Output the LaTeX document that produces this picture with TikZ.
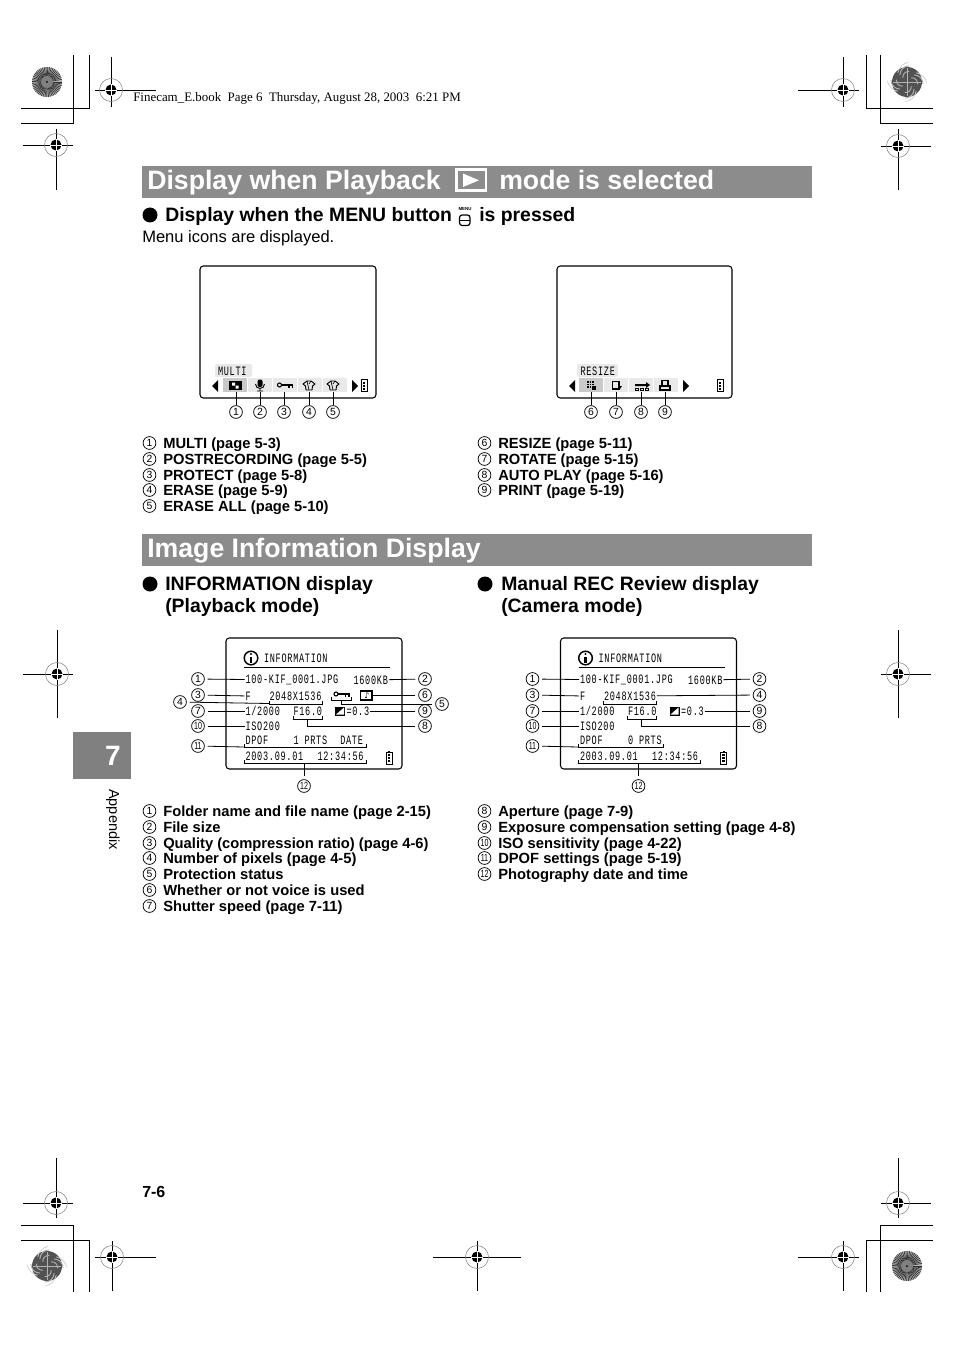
\documentclass[tikz,border=0pt]{standalone}
\usepackage{graphicx}
\usepackage{fontspec}
\setmainfont{Liberation Sans}
\newfontfamily\lcdfont[LetterSpace=8.4]{Liberation Mono}
\newfontfamily\cirfont{DejaVu Sans}
\newfontfamily\hdrfont{Liberation Serif}
\usetikzlibrary{calc,positioning}
\definecolor{barcol}{HTML}{8C8C8C}
\definecolor{tabcol}{HTML}{808080}
\definecolor{bandcol}{HTML}{E9E9E9}
\definecolor{selcol}{HTML}{C9C9C9}
\newcommand{\lcd}[1]{\scalebox{1}[1.5]{\lcdfont\fontsize{6.4}{8}\selectfont #1}}
\newcommand{\cn}[1]{\ifnum#1>9 \scalebox{.68}[1]{#1}\else #1\fi}
\tikzset{
  headtxt/.style={anchor=base west,inner sep=0,yshift=-7.1pt,text=white,font=\fontsize{20}{20}\bfseries},
  subtxt/.style={anchor=base west,inner sep=0,yshift=-4.9pt,align=left,font=\fontsize{14.55}{16.5}\bfseries},
  itemtxt/.style={anchor=base west,inner sep=0,yshift=-4.2pt,font=\fontsize{11.05}{12}\bfseries},
  plaintxt/.style={anchor=base west,inner sep=0,yshift=-4pt,font=\fontsize{12.4}{14}\selectfont},
  cirbase/.style={circle,draw,line width=0.55pt,minimum size=9.6pt,inner sep=0,font=\fontsize{7.8}{8}\selectfont},
  cirnum/.style={cirbase,outer sep=2.4pt},
  cirsmall/.style={cirbase},
  lcdtxt/.style={anchor=west,inner sep=0.6pt},
  screen/.style={draw,line width=0.8pt,rounded corners=2.5pt},
  leader/.style={line width=0.6pt},
  regline/.style={line width=0.7pt},
}
% x y left right top bottom
\newcommand{\regmark}[6]{%
  \draw[regline] (#3,#2)--(#4,#2) (#1,#5)--(#1,#6);
  \draw[gray,line width=0.4pt] (#1,#2) circle (11.5);
  \fill (#1,#2) circle (5.5);
  \draw[white,line width=0.6pt] (#1-6,#2)--(#1+6,#2) (#1,#2-6)--(#1,#2+6);
}
\newcommand{\sunburst}[2]{%
  \fill[gray!60] (#1,#2) circle (15);
  \foreach \a in {0,7,...,353} \draw[line width=0.5pt,black!80] (#1,#2)--++(\a:15);
  \fill[gray] (#1,#2) circle (6);
  \fill[black] (#1,#2) circle (1);
}
\newcommand{\swirl}[2]{%
  \fill[black!68] (#1,#2) circle (15);
  \foreach \a in {0,90,180,270} {
    \draw[gray!60,line width=0.7pt] (#1,#2)--++(\a:14);
    \draw[gray!60,line width=0.7pt] (#1,#2)++(\a+45:6) arc (\a+45-50:\a+45+50:6);
    \draw[gray!60,line width=0.7pt] (#1,#2)++(\a+45:10) arc (\a+45-45:\a+45+45:9);
    \draw[gray!40,line width=0.5pt] (#1,#2)++(\a+45:13) arc (\a+45-35:\a+45+35:13);
  }
}
\newcommand{\batt}[2]{%
  \draw[line width=0.6pt] (#1,#2) rectangle ++(6,12);
  \fill (#1+2,#2-1) rectangle ++(2,1);
  \foreach \b in {2,5,8} \fill (#1+1.7,#2+\b) rectangle ++(2.6,2);
}
\newcommand{\keyicon}[2]{%
  \draw[line width=0.8pt] (#1+2.5,#2) circle (2);
  \draw[line width=1pt] (#1+4.5,#2)--(#1+16,#2) (#1+12,#2)--(#1+12,#2+2.5) (#1+15.5,#2)--(#1+15.5,#2+2.5);
}
\newcommand{\shirticon}[2]{%
  \draw[line width=0.7pt,line join=round] (#1-2,#2-4)--(#1-6,#2-1)--(#1-3.5,#2+1)--(#1-3,#2+5)--(#1+3,#2+5)--(#1+3.5,#2+1)--(#1+6,#2-1)--(#1+2,#2-4)--cycle;
  \draw[line width=0.5pt] (#1-2,#2-4)--(#1,#2+5) (#1+2,#2-4)--(#1,#2-1);
}
% name prefix
\newcommand{\infoscreen}[1]{%
  \draw[screen] (226,638) rectangle (402,769);
  \draw[line width=1.1pt] (251,658) circle (6.8);
  \fill (251,654) circle (1.2);
  \draw[line width=1.8pt] (251,656.5)--(251,663);
  \node[lcdtxt] (#1head) at (263,658) {\lcd{INFORMATION}};
  \draw[leader] (244,667)--(390,667);
  \node[lcdtxt] (#1file) at (244.5,680) {\lcd{100-KIF\_0001.JPG}};
  \node[lcdtxt] (#1size) at (352.5,680) {\lcd{1600KB}};
  \node[lcdtxt] (#1qual) at (244.5,696) {\lcd{F}};
  \node[lcdtxt] (#1pix) at (268.5,696) {\lcd{2048X1536}};
  \node[lcdtxt] (#1shut) at (244.5,711) {\lcd{1/2000}};
  \node[lcdtxt] (#1ap) at (292.5,711) {\lcd{F16.0}};
  \fill (335,706.5) rectangle (345,715.5);
  \fill[white] (336,714.5)--(344,707.5)--(344,714.5)--cycle;
  \node[lcdtxt] (#1ev) at (345.5,711) {\lcd{=0.3}};
  \node[lcdtxt] (#1iso) at (244.5,726) {\lcd{ISO200}};
  \node[lcdtxt] (#1dpof) at (244.5,740) {\lcd{DPOF}};
  \node[lcdtxt] (#1date) at (244.5,756) {\lcd{2003.09.01}};
  \node[lcdtxt] (#1time) at (316.5,756) {\lcd{12:34:56}};
  \batt{386}{752}
  \node[cirnum] (#1n1) at (198,679) {1};
  \node[cirnum] (#1n3) at (198,695) {3};
  \node[cirnum] (#1n7) at (198,711) {7};
  \node[cirnum] (#1n10) at (198,726) {\cn{10}};
  \node[cirnum] (#1n11) at (198,746) {\cn{11}};
  \node[cirnum] (#1n12) at (304,786) {\cn{12}};
  \node[cirnum] (#1n2) at (425,679) {2};
  \node[cirnum] (#1n9) at (425,711) {9};
  \node[cirnum] (#1n8) at (425,726) {8};
  \draw[leader] (#1n1)--(#1file);
  \draw[leader] (#1n3)--(#1qual);
  \draw[leader] (#1n7)--(#1shut);
  \draw[leader] (#1n10)--(#1iso);
  \draw[leader] (#1size)--(#1n2);
  \draw[leader] (#1ev)--(#1n9);
  \draw[leader] (269,701)--(269,704)--(322,704)--(322,701);
  \draw[leader] (293,716)--(293,719)--(322,719)--(322,716);
  \coordinate (#1brap) at (307,719);
  \draw[leader] (#1brap)--(#1brap|-#1n8)--(#1n8);
  \draw[leader] (244,760)--(244,763)--(366,763)--(366,760);
  \coordinate (#1brdt) at (304,763);
  \draw[leader] (#1brdt)--(#1n12);
}
\begin{document}
\begin{tikzpicture}[x=0.75pt,y=-0.75pt]
  \useasboundingbox (0,0) rectangle (954,1348);
  % crop marks
  \draw[regline] (73,55)--(73,123)--(21,123) (89,55)--(89,108)--(21,108);
  \draw[regline] (866,55)--(866,108)--(933,108) (880,55)--(880,123)--(933,123);
  \draw[regline] (73,1292)--(73,1225)--(21,1225) (89,1292)--(89,1240)--(21,1240);
  \draw[regline] (866,1292)--(866,1240)--(933,1240) (880,1292)--(880,1225)--(933,1225);
  \regmark{111}{90}{95}{156}{57}{107}
  \regmark{56}{145}{23}{73}{129}{190}
  \regmark{843}{90}{798}{859}{57}{107}
  \regmark{898}{146}{881}{931}{129}{190}
  \regmark{57}{674}{23}{73}{630}{718}
  \regmark{898}{674}{881}{931}{630}{718}
  \regmark{56}{1203}{23}{73}{1158}{1218}
  \regmark{112}{1257}{95}{156}{1241}{1291}
  \regmark{477}{1257}{433}{521}{1241}{1291}
  \regmark{843}{1257}{798}{859}{1241}{1291}
  \regmark{898}{1203}{881}{931}{1158}{1218}
  \sunburst{47}{82}
  \swirl{907}{82}
  \swirl{47}{1266}
  \sunburst{907}{1266}
  \node[anchor=base west,inner sep=0,font=\hdrfont\fontsize{9.7}{10}\selectfont] (book) at (133,102) {Finecam\_E.book\ \ Page 6\ \ Thursday, August 28, 2003\ \ 6:21 PM};
  % first heading
  \fill[barcol] (142,166) rectangle (812,198);
  \node[headtxt] (head1) at (147,180) {Display when Playback};
  \fill[white] (455,168.5) rectangle (487,192);
  \fill[barcol] (457.5,171) rectangle (484.5,189.5);
  \fill[white] (463,173.5)--(463,187)--(479,180.3)--cycle;
  \node[headtxt] (head2) at (499,180) {mode is selected};
  \fill (150,215) circle (7.5);
  \node[subtxt] (sub1) at (165,215) {Display when the MENU button};
  \node[anchor=center,inner sep=0,font=\fontsize{3.3}{4}\bfseries] (menu) at (465,209.5) {MENU};
  \draw[line width=0.9pt,rounded corners=2pt] (459.5,215)--(470,215)--(470,225.5)--(459.5,225.5)--cycle;
  \draw[line width=0.7pt] (460,220)--(470,220);
  \node[subtxt] (sub2) at (479,215) {is pressed};
  \node[plaintxt] (sub3) at (142,237) {Menu icons are displayed.};
  % menu screens
  \draw[screen] (200,266) rectangle (376,398);
  \fill[bandcol,rounded corners=1.5pt] (215,364) rectangle (252,377);
  \node[lcdtxt] (multi) at (217,371) {\lcd{MULTI}};
  \fill[bandcol] (223,378) rectangle (347,392);
  \fill[selcol] (223,378) rectangle (247,392);
  \draw[white,line width=0.6pt] (247,378)--(247,392) (272,378)--(272,392) (297,378)--(297,392) (322,378)--(322,392);
  \fill (218,380)--(218,392)--(212,386)--cycle;
  \fill (352,380)--(352,392)--(358,386)--cycle;
  \batt{361}{379.5}
  \fill (229,381) rectangle (241.5,390);
  \fill[white] (232,382.5) rectangle (235,385.5) (235.5,385.5) rectangle (238.5,388.5);
  \fill[rounded corners=1.5pt] (257.5,379.5) rectangle (262.5,387);
  \draw[line width=0.7pt] (255.5,384) arc (180:0:4.5) (260,388.5)--(260,391) (257,391)--(263,391);
  \keyicon{277}{385}
  \shirticon{309}{385}
  \shirticon{333}{385}
  \foreach \n/\x in {1/236,2/260,3/284,4/309,5/333}{
    \node[cirsmall] (m\n) at (\x,412) {\n};
    \coordinate (icon\n) at (\x,392);
    \draw[leader] (icon\n)--(m\n);
  }
  \draw[screen] (557,266) rectangle (732,398);
  \fill[bandcol,rounded corners=1.5pt] (577,364) rectangle (618,377);
  \node[lcdtxt] (resize) at (579.5,371) {\lcd{RESIZE}};
  \fill[bandcol] (579,378) rectangle (678,392);
  \fill[selcol] (579,378) rectangle (603,392);
  \draw[white,line width=0.6pt] (603,378)--(603,392) (628,378)--(628,392) (653,378)--(653,392);
  \fill (575,380)--(575,392)--(569,386)--cycle;
  \fill (683,380)--(683,392)--(689,386)--cycle;
  \batt{717}{379.5}
  \foreach \px/\py in {587/381,589.5/381,592/381,587/383.5,589.5/383.5,592/383.5,587/386,589.5/386}
    \fill (\px,\py) rectangle ++(1.7,1.7);
  \fill (591.5,385.5) rectangle (596,390);
  \draw[line width=1.1pt] (612.5,381.5) rectangle (619,389);
  \fill (618,386)--(622,386)--(620,389)--cycle;
  \fill (635,384)--(646,384)--(646,382)--(650,385)--(646,388)--(646,386)--(635,386)--cycle;
  \foreach \px in {635,640,645} \draw[line width=0.7pt] (\px,388.5) rectangle ++(3.6,2);
  \draw[line width=0.8pt] (662,380.5) rectangle (668,386);
  \draw[line width=0.9pt] (660,386)--(670,386)--(670,390)--(660,390)--cycle;
  \foreach \n/\x in {6/591,7/616,8/641,9/665}{
    \node[cirsmall] (m\n) at (\x,412) {\n};
    \coordinate (icon\n) at (\x,392);
    \draw[leader] (icon\n)--(m\n);
  }
  % menu lists
  \foreach \y/\k/\t in {443/1/MULTI (page 5-3),459/2/POSTRECORDING (page 5-5),475/3/PROTECT (page 5-8),490/4/ERASE (page 5-9),506/5/ERASE ALL (page 5-10)}{
    \node[cirsmall] (la\k) at (149.5,\y) {\k};
    \node[itemtxt] (lb\k) at (163,\y) {\t};
  }
  \foreach \y/\k/\t in {443/6/RESIZE (page 5-11),459/7/ROTATE (page 5-15),475/8/AUTO PLAY (page 5-16),490/9/PRINT (page 5-19)}{
    \node[cirsmall] (la\k) at (484.5,\y) {\k};
    \node[itemtxt] (lb\k) at (498,\y) {\t};
  }
  % second heading
  \fill[barcol] (142,534) rectangle (812,566);
  \node[headtxt] (head3) at (147,548) {Image Information Display};
  \fill (150,584) circle (7.5);
  \node[subtxt] (sub4) at (165,584) {INFORMATION display};
  \node[subtxt] (sub4b) at (165,606) {(Playback mode)};
  \fill (485,584) circle (7.5);
  \node[subtxt] (sub5) at (501,584) {Manual REC Review display};
  \node[subtxt] (sub5b) at (501,606) {(Camera mode)};
  % left info screen
  \infoscreen{a}
  \node[lcdtxt] (aprts) at (292.5,740) {\lcd{1 PRTS}};
  \node[lcdtxt,anchor=east] (adt) at (364,740) {\lcd{DATE}};
  \keyicon{333.5}{694}
  \draw[leader] (331,697)--(331,700)--(351,700)--(351,697);
  \draw[line width=1pt] (360.5,691) rectangle (372,700);
  \node[inner sep=0,font=\cirfont\fontsize{6}{6}\selectfont] (anote) at (367,695.5) {♪};
  \node[cirnum] (an4) at (180,702) {4};
  \node[cirnum] (an5) at (442,704) {5};
  \node[cirnum] (an6) at (425,695) {6};
  \coordinate (abrpx) at (269,703.5);
  \draw[leader] (an4)--(abrpx);
  \coordinate (abrkey) at (341,700);
  \draw[leader] (abrkey)--(341,704)--(an5);
  \coordinate (anoteend) at (372,695);
  \draw[leader] (anoteend)--(an6);
  \draw[leader] (244,744)--(244,747)--(366,747)--(366,744);
  \coordinate (abrdp) at (244,747);
  \draw[leader] (an11)--(abrdp);
  % right info screen
  \begin{scope}[shift={(334.5,0)}]
    \infoscreen{b}
    \node[lcdtxt] (bprts) at (292.5,740) {\lcd{0 PRTS}};
    \node[cirnum] (bn4) at (425,695) {4};
    \draw[leader] (bpix)--(bn4);
    \draw[leader] (244,744)--(244,747)--(329,747)--(329,744);
    \coordinate (bbrdp) at (244,747);
    \draw[leader] (bn11)--(bbrdp);
  \end{scope}
  % info lists
  \foreach \y/\k/\t in {811/1/Folder name and file name (page 2-15),827/2/File size,843/3/Quality (compression ratio) (page 4-6),858/4/Number of pixels (page 4-5),874/5/Protection status,890/6/Whether or not voice is used,906/7/Shutter speed (page 7-11)}{
    \node[cirsmall] (ia\k) at (149.5,\y) {\k};
    \node[itemtxt] (ib\k) at (163,\y) {\t};
  }
  \foreach \y/\k/\t in {811/8/Aperture (page 7-9),827/9/Exposure compensation setting (page 4-8),843/10/ISO sensitivity (page 4-22),858/11/DPOF settings (page 5-19),874/12/Photography date and time}{
    \node[cirsmall] (ia\k) at (484.5,\y) {\cn{\k}};
    \node[itemtxt] (ib\k) at (498,\y) {\t};
  }
  % chapter tab
  \fill[tabcol] (73,732) rectangle (131,779);
  \node[inner sep=0,text=white,font=\fontsize{21}{22}\bfseries] (chap) at (113,755.5) {7};
  \node[inner sep=0,rotate=-90,font=\fontsize{10.9}{12}\selectfont] (apdx) at (113,819.5) {Appendix};
  \node[anchor=base west,inner sep=0,font=\fontsize{12}{14}\bfseries] (pageno) at (142,1197.5) {7-6};
\end{tikzpicture}
\end{document}
